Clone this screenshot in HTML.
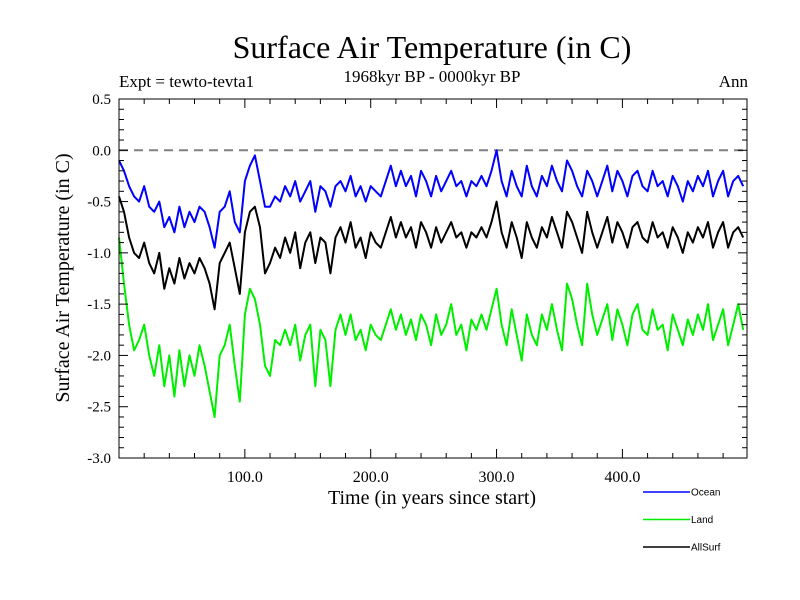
<!DOCTYPE html>
<html><head><meta charset="utf-8"><style>body{margin:0;background:#fff}svg{display:block}</style></head>
<body>
<svg id="chart" width="800" height="600" xmlns="http://www.w3.org/2000/svg" font-family="Liberation Serif, serif">
<rect width="800" height="600" fill="#fff"/>
<text x="432" y="58" font-size="32" text-anchor="middle">Surface Air Temperature (in C)</text>
<text x="432" y="82" font-size="17" text-anchor="middle">1968kyr BP - 0000kyr BP</text>
<text x="119" y="87" font-size="17">Expt = tewto-tevta1</text>
<text x="748" y="87" font-size="17" text-anchor="end">Ann</text>
<text transform="translate(69,278) rotate(-90)" font-size="20" text-anchor="middle">Surface Air Temperature (in C)</text>
<text x="432" y="504" font-size="20" text-anchor="middle">Time (in years since start)</text>
<g id="plot"></g>
<g id="legend" font-family="Liberation Sans, sans-serif" font-size="10"></g>
</svg>
<script>
const oceanValues=[-0.1,-0.2,-0.35,-0.45,-0.5,-0.35,-0.55,-0.6,-0.5,-0.75,-0.65,-0.8,-0.55,-0.75,-0.6,-0.7,-0.55,-0.6,-0.75,-0.95,-0.6,-0.55,-0.4,-0.7,-0.8,-0.3,-0.15,-0.05,-0.3,-0.55,-0.55,-0.45,-0.5,-0.35,-0.45,-0.3,-0.5,-0.4,-0.3,-0.6,-0.35,-0.4,-0.55,-0.35,-0.3,-0.4,-0.25,-0.45,-0.35,-0.5,-0.35,-0.4,-0.45,-0.3,-0.15,-0.35,-0.2,-0.35,-0.25,-0.45,-0.2,-0.3,-0.45,-0.25,-0.4,-0.3,-0.2,-0.35,-0.3,-0.45,-0.3,-0.35,-0.25,-0.35,-0.2,0.0,-0.3,-0.45,-0.2,-0.35,-0.45,-0.15,-0.35,-0.45,-0.25,-0.35,-0.15,-0.3,-0.4,-0.1,-0.2,-0.35,-0.45,-0.2,-0.3,-0.45,-0.3,-0.15,-0.4,-0.2,-0.3,-0.45,-0.25,-0.2,-0.35,-0.4,-0.2,-0.35,-0.3,-0.45,-0.25,-0.35,-0.5,-0.3,-0.4,-0.25,-0.35,-0.2,-0.45,-0.3,-0.2,-0.45,-0.3,-0.25,-0.35];
const allSurfValues=[-0.45,-0.6,-0.85,-1.0,-1.05,-0.9,-1.1,-1.2,-1.0,-1.35,-1.15,-1.3,-1.05,-1.25,-1.1,-1.2,-1.05,-1.15,-1.3,-1.55,-1.1,-1.0,-0.9,-1.15,-1.4,-0.8,-0.6,-0.55,-0.75,-1.2,-1.1,-0.95,-1.05,-0.85,-1.0,-0.8,-1.15,-0.9,-0.8,-1.1,-0.85,-0.9,-1.2,-0.85,-0.75,-0.9,-0.7,-0.95,-0.85,-1.05,-0.8,-0.9,-0.95,-0.8,-0.65,-0.85,-0.7,-0.85,-0.75,-0.95,-0.7,-0.8,-0.95,-0.75,-0.9,-0.8,-0.7,-0.85,-0.8,-0.95,-0.8,-0.85,-0.75,-0.85,-0.7,-0.5,-0.8,-0.95,-0.7,-0.85,-1.05,-0.7,-0.85,-0.95,-0.75,-0.85,-0.65,-0.8,-0.95,-0.6,-0.7,-0.85,-1.0,-0.6,-0.8,-0.95,-0.8,-0.65,-0.9,-0.7,-0.8,-0.95,-0.75,-0.7,-0.85,-0.9,-0.7,-0.85,-0.8,-0.95,-0.75,-0.85,-1.0,-0.8,-0.9,-0.75,-0.85,-0.7,-0.95,-0.8,-0.7,-0.95,-0.8,-0.75,-0.85];
const landValues=[-0.85,-1.3,-1.7,-1.95,-1.85,-1.7,-2.0,-2.2,-1.9,-2.3,-2.0,-2.4,-1.95,-2.3,-2.0,-2.2,-1.9,-2.1,-2.35,-2.6,-2.0,-1.9,-1.7,-2.1,-2.45,-1.6,-1.35,-1.45,-1.7,-2.1,-2.2,-1.85,-1.9,-1.75,-1.9,-1.7,-2.05,-1.8,-1.7,-2.3,-1.75,-1.85,-2.3,-1.75,-1.6,-1.8,-1.6,-1.85,-1.75,-1.95,-1.7,-1.8,-1.85,-1.7,-1.55,-1.75,-1.6,-1.8,-1.65,-1.85,-1.6,-1.7,-1.9,-1.6,-1.8,-1.7,-1.5,-1.8,-1.7,-1.95,-1.65,-1.75,-1.6,-1.75,-1.55,-1.35,-1.7,-1.9,-1.55,-1.8,-2.05,-1.6,-1.8,-1.9,-1.6,-1.75,-1.5,-1.75,-1.95,-1.3,-1.45,-1.7,-1.9,-1.3,-1.6,-1.8,-1.65,-1.5,-1.85,-1.55,-1.7,-1.9,-1.6,-1.5,-1.75,-1.8,-1.55,-1.75,-1.7,-1.95,-1.6,-1.75,-1.9,-1.65,-1.8,-1.6,-1.75,-1.5,-1.85,-1.7,-1.55,-1.9,-1.7,-1.5,-1.75];
const yearStep=4;
const xTickValues=[100,200,300,400];
const xTickLabels=["100.0","200.0","300.0","400.0"];
const yTickValues=[0.5,0.0,-0.5,-1.0,-1.5,-2.0,-2.5,-3.0];
const yTickLabels=["0.5","0.0","-0.5","-1.0","-1.5","-2.0","-2.5","-3.0"];
const seriesNames=["Ocean","Land","AllSurf"];

const L=119,R=747,T=99,B=458,X0=0,X1=499,Y0=-3.0,Y1=0.5;
const sx=v=>L+(v-X0)/(X1-X0)*(R-L);
const sy=v=>B-(v-Y0)/(Y1-Y0)*(B-T);
const NS="http://www.w3.org/2000/svg";
const plot=document.getElementById('plot');
function mk(tag,attrs,parent){const e=document.createElementNS(NS,tag);for(const k in attrs)e.setAttribute(k,attrs[k]);(parent||plot).appendChild(e);return e;}

const zl=mk('line',{x1:L,x2:R,y1:sy(0),y2:sy(0),stroke:'#808080','stroke-width':2,'stroke-dasharray':'9,6'});



function series(vals,color,name){
  const pts=vals.map((v,i)=>sx(i*yearStep).toFixed(1)+','+sy(v).toFixed(1)).join(' ');
  const p=mk('polyline',{points:pts,fill:'none',stroke:color,'stroke-width':2,'stroke-linejoin':'round'});
  
  
}
series(landValues,'#00ee00','land-series');
series(allSurfValues,'#000000','allsurf-series');
series(oceanValues,'#0000ff','ocean-series');

const frame=mk('rect',{x:L,y:T,width:R-L,height:B-T,fill:'none',stroke:'#000','stroke-width':1});



for(let t=20;t<X1;t+=20){
  const len=(t%100===0)?9:5;
  mk('line',{x1:sx(t),x2:sx(t),y1:B,y2:B-len,stroke:'#000'});
  mk('line',{x1:sx(t),x2:sx(t),y1:T,y2:T+len,stroke:'#000'});
}
for(let k=-30;k<=5;k++){
  const v=k/10,len=(k%5===0)?9:5;
  mk('line',{x1:L,x2:L+len,y1:sy(v),y2:sy(v),stroke:'#000'});
  mk('line',{x1:R,x2:R-len,y1:sy(v),y2:sy(v),stroke:'#000'});
}
xTickValues.forEach((v,i)=>{
  const t=mk('text',{x:sx(v),y:482,'font-size':16,'text-anchor':'middle'});
  t.textContent=xTickLabels[i];
  
  
});
yTickValues.forEach((v,i)=>{
  const t=mk('text',{x:111,y:sy(v)+5,'font-size':15,'text-anchor':'end'});
  t.textContent=yTickLabels[i];
  
  
});

const lg=document.getElementById('legend');
const legendColors=['#0000ff','#00ee00','#000000'];
seriesNames.forEach((n,i)=>{
  const y=492+i*27.5;
  const g=mk('g',{},lg);
  
  
  mk('line',{x1:643,x2:690,y1:y,y2:y,stroke:legendColors[i],'stroke-width':1.5},g);
  const t=mk('text',{x:691,y:y+3.5},g);
  t.textContent=n;
});
</script>
</body></html>
